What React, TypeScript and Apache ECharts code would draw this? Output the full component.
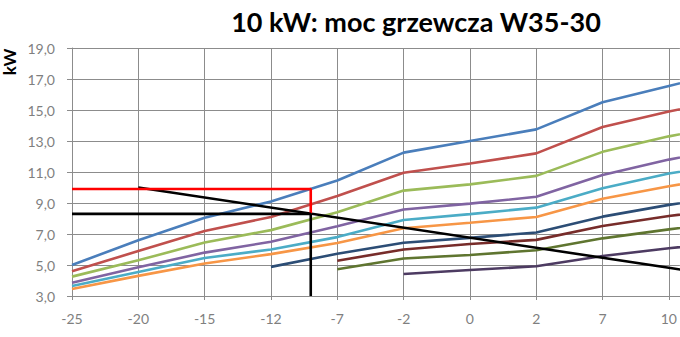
import React, { useEffect, useRef } from "react";
import * as echarts from "echarts";

// Outdoor temperature categories (°C)
const categories = ["-25", "-20", "-15", "-12", "-7", "-2", "0", "2", "7", "10"];
const temps = [-25, -20, -15, -12, -7, -2, 0, 2, 7, 10];
// Y-axis tick values (kW)
const yTicks = [3, 5, 7, 9, 11, 13, 15, 17, 19];

// Heating capacity curves (kW) per category; the 11th value lies just past the
// cropped right edge of the chart.
const curve1 = [5.0, 6.6, 8.05, 9.1, 10.45, 12.25, 13.0, 13.75, 15.5, 16.55, 17.6];
const curve2 = [4.6, 5.9, 7.2, 8.1, 9.45, 10.95, 11.55, 12.2, 13.9, 14.9, 15.8];
const curve3 = [4.25, 5.3, 6.45, 7.25, 8.4, 9.8, 10.2, 10.75, 12.3, 13.3, 14.1];
const curve4 = [3.85, 4.85, 5.8, 6.5, 7.5, 8.58, 8.96, 9.4, 10.8, 11.8, 12.6];
const curve5 = [3.65, 4.55, 5.45, 6.0, 6.8, 7.9, 8.28, 8.7, 9.95, 10.9, 11.6];
const curve6 = [3.45, 4.3, 5.1, 5.7, 6.42, 7.37, 7.73, 8.1, 9.27, 10.08, 10.8];
const curve7 = [null, null, null, 4.88, 5.72, 6.44, 6.75, 7.1, 8.12, 8.88, 9.5];
const curve8 = [null, null, null, null, 5.28, 6.0, 6.35, 6.62, 7.52, 8.16, 8.7];
const curve9 = [null, null, null, null, 4.73, 5.42, 5.65, 5.95, 6.72, 7.3, 7.8];
const curve10 = [null, null, null, null, null, 4.42, 4.68, 4.92, 5.58, 6.08, 6.5];

// Building heat-load line: starts at -20 °C with 10.0 kW
const loadStartTemp = -20;
const loadStartKW = 10.0;
const loadAt10KW = 4.82;
const loadBeyondKW = 4.18;

// Design point markers
const designTemp = -9;
const demandKW = 9.9;
const capacityKW = 8.3;
const yMin = 3;
const yMax = 19;

const curves = [curve1, curve2, curve3, curve4, curve5, curve6, curve7, curve8, curve9, curve10];
const curveColors = [
  "#4A7EBB", "#C0504D", "#9BBB59", "#8064A2", "#4BACC6",
  "#F79646", "#2C4D75", "#772C2A", "#5F7530", "#4D3B62",
];

function tempToIndex(t: number): number {
  for (let i = 0; i < temps.length - 1; i++) {
    if (t >= temps[i] && t <= temps[i + 1]) {
      return i + (t - temps[i]) / (temps[i + 1] - temps[i]);
    }
  }
  return t < temps[0] ? 0 : temps.length - 1;
}

export default function App() {
  const ref = useRef<HTMLDivElement>(null);

  useEffect(() => {
    if (!ref.current) return;
    const chart = echarts.init(ref.current, null, { renderer: "svg" });
    const gridColor = "#8c8c8c";
    const labelColor = "#7f7f7f";
    const font = "Lato";
    const left = 72;
    const step = (669 - left) / (categories.length - 1);
    // the plot is cropped a little past the last category
    const xMax = (680 - left) / step;
    const lastIdx = curve1.length - 1;

    const dIdx = tempToIndex(designTemp);

    const series: any[] = curves.map((c, k) => ({
      type: "line",
      data: c
        .map((v, i) => (v == null ? null : [i, v]))
        .filter((p) => p != null),
      showSymbol: false,
      symbol: "none",
      lineStyle: { color: curveColors[k], width: 2.6 },
      itemStyle: { color: curveColors[k] },
      z: 2,
    }));

    series.push({
      type: "line",
      data: [
        [tempToIndex(loadStartTemp), loadStartKW],
        [lastIdx - 1, loadAt10KW],
        [lastIdx, loadBeyondKW],
      ],
      symbol: "none",
      lineStyle: { color: "#000000", width: 2.6 },
      z: 4,
    });
    series.push({
      type: "line",
      data: [
        [0, demandKW],
        [dIdx, demandKW],
        [dIdx, capacityKW],
      ],
      symbol: "none",
      lineStyle: { color: "#FF0000", width: 2.6 },
      z: 5,
    });
    series.push({
      type: "line",
      data: [
        [0, capacityKW],
        [dIdx, capacityKW],
        [dIdx, yMin],
      ],
      symbol: "none",
      lineStyle: { color: "#000000", width: 2.6 },
      z: 5,
    });

    chart.setOption({
      animation: false,
      backgroundColor: "#ffffff",
      grid: { left, top: 48, bottom: 41, right: 0, containLabel: false },
      graphic: [
        {
          type: "text",
          x: 416,
          y: 21,
          style: {
            text: "10 kW: moc grzewcza W35-30",
            font: `bold 27px ${font}`,
            fill: "#000000",
            align: "center",
            verticalAlign: "middle",
          },
        },
        {
          type: "text",
          x: 9,
          y: 62,
          rotation: Math.PI / 2,
          style: {
            text: "kW",
            font: `bold 17px ${font}`,
            fill: "#000000",
            align: "center",
            verticalAlign: "middle",
          },
        },
      ],
      xAxis: {
        type: "value",
        min: 0,
        max: xMax,
        interval: 1,
        axisLine: { show: true, onZero: false, lineStyle: { color: gridColor, width: 1 } },
        axisTick: { show: true, length: 4, lineStyle: { color: gridColor } },
        splitLine: { show: true, lineStyle: { color: gridColor, width: 1 } },
        axisLabel: {
          color: labelColor,
          fontSize: 14,
          fontFamily: font,
          margin: 15,
          showMaxLabel: false,
          formatter: (v: number) =>
            Math.abs(v - Math.round(v)) < 1e-6 ? categories[Math.round(v)] ?? "" : "",
        },
      },
      yAxis: {
        type: "value",
        min: yMin,
        max: yMax,
        axisLine: { show: true, lineStyle: { color: gridColor, width: 1 } },
        axisTick: { show: true, length: 5, customValues: yTicks, lineStyle: { color: gridColor } },
        splitLine: { show: true, lineStyle: { color: gridColor, width: 1 } },
        axisLabel: {
          customValues: yTicks,
          color: labelColor,
          fontSize: 14,
          fontFamily: font,
          margin: 17,
          formatter: (v: number) => v.toFixed(1).replace(".", ","),
        },
      },
      series,
    });
    return () => chart.dispose();
  }, []);

  return (
    <div
      ref={ref}
      style={{ position: "fixed", left: 0, top: 0, width: 680, height: 337, background: "#fff" }}
    />
  );
}
